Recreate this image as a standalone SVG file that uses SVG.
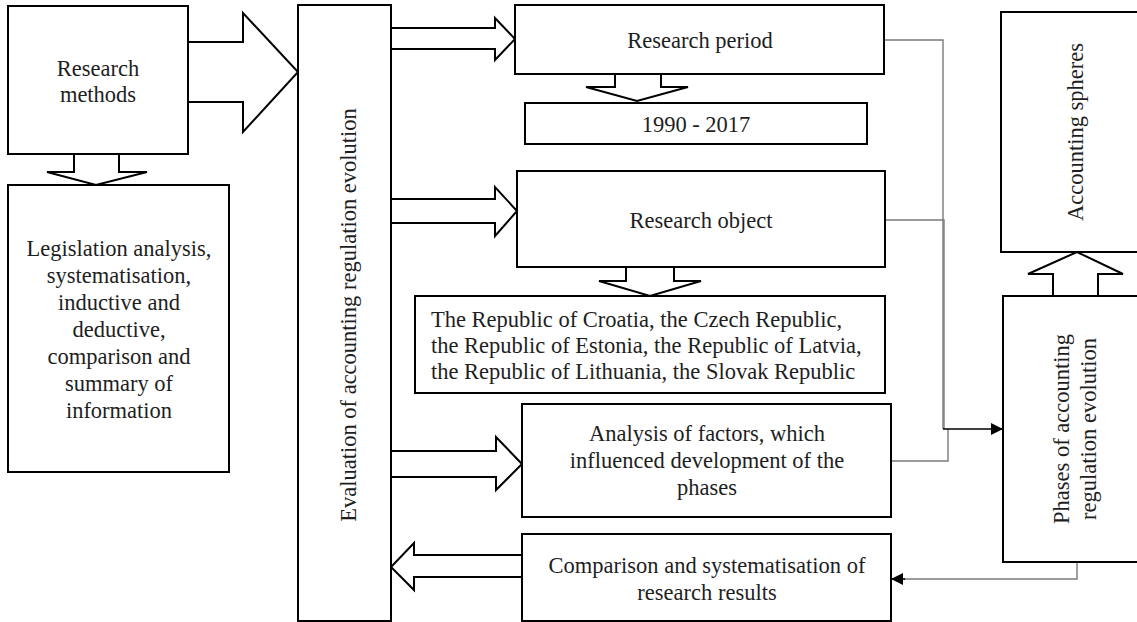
<svg xmlns="http://www.w3.org/2000/svg" width="1137" height="622" viewBox="0 0 1137 622">
<defs>
<style>
.box{fill:#fff;stroke:#000;stroke-width:2}
.barrow{fill:#fff;stroke:#000;stroke-width:2;stroke-linejoin:miter}
.t{font-family:"Liberation Serif","Times New Roman",serif;font-size:22.5px;fill:#1e1e1e}
.c{text-anchor:middle}
.gl{fill:none;stroke:#7a7a7a;stroke-width:1.4}
.bl{fill:none;stroke:#000;stroke-width:1.6}
</style>
<marker id="ah" markerWidth="12" markerHeight="12" viewBox="0 0 12 12" refX="12" refY="6" orient="auto" markerUnits="userSpaceOnUse">
<path d="M0,0 L12,6 L0,12 Z" fill="#000"/>
</marker>
</defs>
<rect width="1137" height="622" fill="#fff"/>

<g id="connectors">
<polygon class="barrow" points="188,42 243,42 243,13 298,72 243,132 243,102 188,102"/>
<polygon class="barrow" points="74,154 119,154 119,172 147,172 96,185 47,172 74,172"/>
<polygon class="barrow" points="391,28 495,28 495,18 515,39 495,60 495,49 391,49"/>
<polygon class="barrow" points="391,199 495,199 495,187 517,211 495,236 495,223 391,223"/>
<polygon class="barrow" points="391,451 496,451 496,437 522,464 496,490 496,477 391,477"/>
<polygon class="barrow" points="522,555 414,555 414,543 391,567 414,590 414,577 522,577"/>
<polygon class="barrow" points="615,74 661,74 661,87 688,87 637,101 586,87 615,87"/>
<polygon class="barrow" points="626,267 674,267 674,281 701,281 650,296 599,281 626,281"/>
<polygon class="barrow" points="1053,296 1053,274 1028,274 1077,252 1123,274 1098,274 1098,296"/>
<polyline class="gl" points="884,40 943,40 943,429"/>
<polyline class="gl" points="885,220 944,220 944,429"/>
<polyline class="gl" points="891,461 948,461 948,429"/>
<line class="bl" x1="943" y1="429" x2="1003" y2="429" marker-end="url(#ah)"/>
<polyline class="gl" points="1077,562 1077,579 904,579"/>
<line class="bl" x1="905" y1="579" x2="891" y2="579" marker-end="url(#ah)" stroke-width="1"/>
</g>

<g id="research-methods">
<rect class="box" x="8" y="6" width="180" height="148"/>
<text class="t c" x="98" y="76">Research</text>
<text class="t c" x="98" y="102">methods</text>
</g>

<g id="methods-list">
<rect class="box" x="8" y="185" width="221" height="287"/>
<text class="t c" x="119" y="256">Legislation analysis,</text>
<text class="t c" x="119" y="283">systematisation,</text>
<text class="t c" x="119" y="310">inductive and</text>
<text class="t c" x="119" y="337">deductive,</text>
<text class="t c" x="119" y="364">comparison and</text>
<text class="t c" x="119" y="391">summary of</text>
<text class="t c" x="119" y="418">information</text>
</g>

<g id="evaluation">
<rect class="box" x="298" y="5" width="93" height="616"/>
<text class="t c" transform="translate(356,315) rotate(-90)">Evaluation of accounting regulation evolution</text>
</g>

<g id="research-period">
<rect class="box" x="515" y="5" width="369" height="69"/>
<text class="t c" x="700" y="48">Research period</text>
</g>

<g id="period-years">
<rect class="box" x="525" y="103" width="342" height="41"/>
<text class="t c" x="696" y="132">1990 - 2017</text>
</g>

<g id="research-object">
<rect class="box" x="517" y="171" width="368" height="96"/>
<text class="t c" x="701" y="228">Research object</text>
</g>

<g id="countries">
<rect class="box" x="415" y="296" width="470" height="97"/>
<text class="t" x="431" y="327">The Republic of Croatia, the Czech Republic,</text>
<text class="t" x="431" y="353">the Republic of Estonia, the Republic of Latvia,</text>
<text class="t" x="431" y="379">the Republic of Lithuania, the Slovak Republic</text>
</g>

<g id="factors">
<rect class="box" x="522" y="404" width="369" height="113"/>
<text class="t c" x="707" y="441">Analysis of factors, which</text>
<text class="t c" x="707" y="468">influenced development of the</text>
<text class="t c" x="707" y="495">phases</text>
</g>

<g id="comparison">
<rect class="box" x="522" y="534" width="369" height="87"/>
<text class="t c" x="707" y="573">Comparison and systematisation of</text>
<text class="t c" x="707" y="600">research results</text>
</g>

<g id="accounting-spheres">
<rect class="box" x="1001" y="12" width="170" height="240"/>
<text class="t c" transform="translate(1083,132) rotate(-90)">Accounting spheres</text>
</g>

<g id="phases">
<rect class="box" x="1003" y="296" width="170" height="266"/>
<text class="t c" transform="translate(1069,429) rotate(-90)">Phases of accounting</text>
<text class="t c" transform="translate(1096,429) rotate(-90)">regulation evolution</text>
</g>
</svg>
